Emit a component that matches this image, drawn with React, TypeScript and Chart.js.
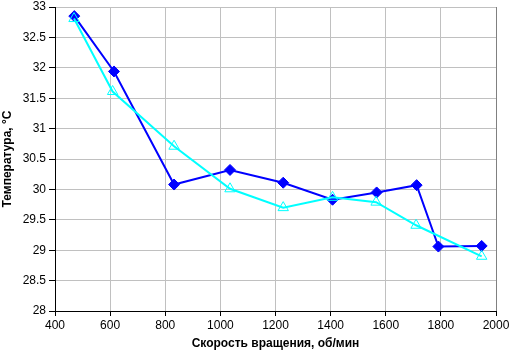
import React, { useEffect, useRef } from "react";
import { Chart, registerables } from "chart.js";

Chart.register(...registerables);

const seriesA_x = [470, 614, 832, 1035, 1228, 1407, 1567, 1712, 1791, 1948];
const seriesA_y = [32.85, 31.94, 30.08, 30.32, 30.11, 29.83, 29.95, 30.07, 29.06, 29.07];
const seriesB_x = [469, 609, 832, 1035, 1228, 1407, 1565, 1710, 1948];
const seriesB_y = [32.81, 31.61, 30.71, 30.01, 29.7, 29.87, 29.79, 29.41, 28.9];
const xTicks = [400, 600, 800, 1000, 1200, 1400, 1600, 1800, 2000];
const yTicks = [28, 28.5, 29, 29.5, 30, 30.5, 31, 31.5, 32, 32.5, 33];
const xTitle = "Скорость вращения, об/мин";
const yTitle = "Температура, °C";

export default function App() {
  const ref = useRef<HTMLCanvasElement>(null);
  useEffect(() => {
    document.body.style.margin = "0";
    const ctx = ref.current!;
    const chart = new Chart(ctx, {
      type: "line",
      data: {
        datasets: [
          {
            label: "B",
            data: seriesB_x.map((x, i) => ({ x, y: seriesB_y[i] })),
            borderColor: "#00ffff",
            backgroundColor: "#ffffff",
            borderWidth: 2,
            pointStyle: "triangle",
            pointRadius: 6,
            pointBorderWidth: 1,
            pointBorderColor: "#00ffff",
            pointBackgroundColor: "rgba(255,255,255,0)",
            tension: 0,
            order: 0,
          },
          {
            label: "A",
            data: seriesA_x.map((x, i) => ({ x, y: seriesA_y[i] })),
            borderColor: "#0000ff",
            backgroundColor: "#0000ff",
            borderWidth: 2,
            pointStyle: "rectRot",
            pointRadius: 5.5,
            pointBorderWidth: 1,
            pointBorderColor: "#0000ff",
            pointBackgroundColor: "#0000ff",
            tension: 0,
            order: 1,
          },
        ],
      },
      options: {
        animation: false,
        responsive: false,
        maintainAspectRatio: false,
        layout: { padding: { top: 5, right: 13, left: 0, bottom: 6 } },
        plugins: { legend: { display: false }, tooltip: { enabled: false } },
        scales: {
          x: {
            type: "linear",
            min: 400,
            max: 2000,
            afterBuildTicks: (s: any) => {
              s.ticks = xTicks.map((v) => ({ value: v }));
            },
            afterFit: (s: any) => {
              s.height = 40;
              s.paddingLeft = 0;
              s.paddingRight = 0;
            },
            ticks: {
              color: "#000",
              font: { family: "Liberation Sans, Arial", size: 12 },
              padding: 2,
              maxRotation: 0,
              callback: (v: any) => String(v),
            },
            grid: {
              color: "#c0c0c0",
              tickColor: "#000",
              tickLength: 5,
              lineWidth: 1,
            },
            border: { color: "#000", width: 1 },
            title: {
              display: true,
              text: xTitle,
              color: "#000",
              font: { family: "Liberation Sans, Arial", size: 12, weight: "bold" },
              padding: { top: 2, bottom: 0 },
            },
          },
          y: {
            type: "linear",
            min: 28,
            max: 33,
            afterBuildTicks: (s: any) => {
              s.ticks = yTicks.map((v) => ({ value: v }));
            },
            afterFit: (s: any) => {
              s.width = 55;
              s.paddingTop = 0;
              s.paddingBottom = 0;
            },
            ticks: {
              color: "#000",
              font: { family: "Liberation Sans, Arial", size: 12 },
              padding: 3,
              callback: (v: any) => String(v),
            },
            grid: {
              color: "#c0c0c0",
              tickColor: "#000",
              tickLength: 6,
              lineWidth: 1,
            },
            border: { color: "#000", width: 1 },
            title: {
              display: true,
              text: yTitle,
              color: "#000",
              font: { family: "Liberation Sans, Arial", size: 12, weight: "bold" },
              padding: { top: 0, bottom: 2 },
            },
          },
        },
      },
      plugins: [
        {
          id: "frame",
          afterDraw: (c: any) => {
            const { right, top, bottom } = c.chartArea;
            const g = c.ctx;
            g.save();
            g.strokeStyle = "#808080";
            g.lineWidth = 1;
            g.beginPath();
            g.moveTo(Math.round(right) + 0.5, top);
            g.lineTo(Math.round(right) + 0.5, bottom);
            g.stroke();
            g.restore();
          },
        },
      ],
    });
    return () => chart.destroy();
  }, []);
  return (
    <div style={{ position: "absolute", left: 0, top: 0, width: 509, height: 357 }}>
      <canvas ref={ref} width={509} height={357} style={{ width: 509, height: 357 }} />
    </div>
  );
}
